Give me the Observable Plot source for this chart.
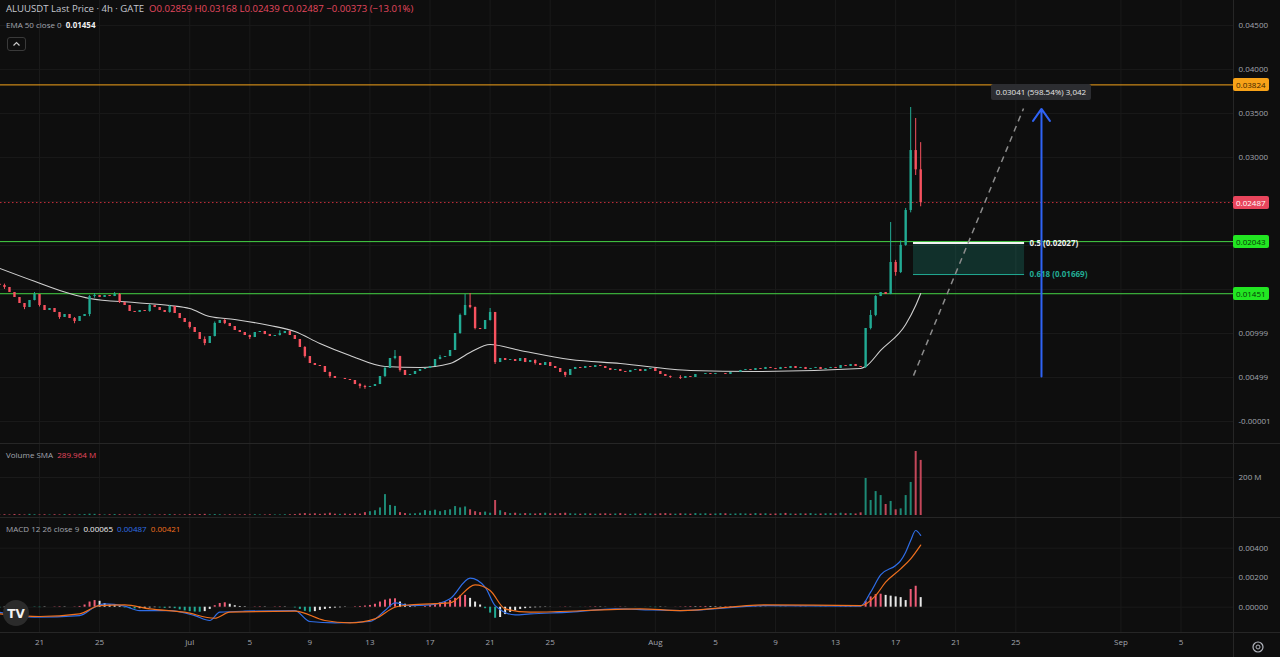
<!DOCTYPE html>
<html><head><meta charset="utf-8">
<script src="https://cdn.jsdelivr.net/npm/d3@7"></script>
<script src="https://cdn.jsdelivr.net/npm/@observablehq/plot@0.6"></script>
<style>
body{margin:0;background:#0e0e0e;overflow:hidden;}
#wrap{position:relative;width:1280px;height:657px;background:#0e0e0e;font-family:"Open Sans",sans-serif;color:#b2b5be;overflow:hidden;}
.pane{position:absolute;left:0;}
.ov{position:absolute;white-space:nowrap;}
.box{position:absolute;font-size:8px;line-height:13px;height:13px;padding:0 3px;border-radius:2px;white-space:nowrap;}
.sep{position:absolute;background:#262626;}
</style></head><body><div id="wrap"></div>
<script>
// ---------- DATA ----------
const candleStart = "2024-06-18T08:00:00Z";   // first candle open time
const candleHours = 8;
const priceUnit = 1e-5;
const firstOpen = 1560;
// closes (x 1e-5)
const closes = [
1544,1522,1465,1408,1340,1294,1374,1442,1317,1260,
1283,1238,1181,1215,1169,1135,1192,1215,1419,1431,
1408,1431,1419,1442,1351,1317,1249,1238,1260,1249,
1317,1294,1260,1238,1306,1226,1169,1124,1067,1010,
931,885,965,1113,1147,1113,1078,1033,1010,976,
953,1010,1022,987,965,976,999,1022,976,931,
840,737,658,635,624,556,510,488,488,476,
465,419,397,385,397,419,510,601,715,737,
579,522,533,567,590,601,624,703,726,737,
806,999,1204,1317,1294,1056,1044,1147,1238,669,
715,692,703,681,715,669,692,658,635,669,
624,601,556,522,590,613,601,624,613,635,
624,601,579,590,567,556,579,590,567,590,
601,567,533,510,499,499,488,510,499,533,
533,544,533,544,544,533,556,556,579,590,
579,601,590,613,601,590,613,601,624,601,
613,590,601,613,590,601,613,601,635,624,
647,624,613,1056,1204,1419,1465,1442,1806,1692,
2000,2397,3078,2859,2487];
// [candle index, high, low] (x 1e-5)
const wicks = [[1,1560,1500],[5,1340,1270],[7,1465,1370],[8,1442,1300],[12,1230,1160],[15,1180,1110],[18,1430,1190],[19,1453,1400],[23,1465,1420],[24,1453,1340],[30,1330,1240],[34,1320,1230],[38,1130,1050],[41,960,860],[43,1130,960],[45,1160,1100],[50,980,930],[56,1030,970],[61,850,720],[66,560,490],[72,430,370],[73,410,365],[77,620,500],[79,806,700],[80,740,560],[88,750,700],[92,1220,990],[93,1442,1200],[94,1453,1280],[95,1300,1040],[98,1283,1140],[99,1238,647],[107,700,640],[113,560,499],[134,515,488],[136,520,476],[173,1056,601],[174,1260,1040],[175,1430,1190],[178,2260,1440],[179,1830,1650],[180,2050,1680],[181,2420,1990],[182,3567,2370],[183,3442,2794],[184,3168,2439]];
// volume (millions)
const volumes = [
3,4,3,5,4,3,6,4,3,4, 3,4,3,5,4,3,4,5,7,6, 4,3,4,5,4,3,4,3,4,3, 4,3,3,4,5,4,3,4,5,4,
5,6,4,5,4,3,4,3,3,4, 3,4,3,3,4,3,3,4,4,5, 8,10,7,9,6,8,12,7,6,8, 6,9,7,15,20,25,40,110,53,48,
15,10,8,9,12,26,22,28,20,26, 30,47,40,45,30,20,15,18,12,79, 25,15,10,12,8,10,9,8,10,12,
9,8,10,12,9,8,7,9,8,7, 8,9,7,8,10,7,6,8,7,9, 8,7,9,10,8,7,9,8,7,10, 8,9,7,8,10,9,7,8,9,8,
7,10,8,9,7,8,9,11,8,7, 9,8,10,7,8,9,10,8,12,9, 10,8,14,
195,79,126,105,58,74,30,35,105,174,337,290];
// MACD histogram (x 1e-5)
const histogram = [
-5,-3,0,2,3,2,0,-2,-3,-2,0,2,3,2,0,2,5,
15,35,45,40,25,15,10,5,
-5,-10,-12,-10,-8,-5,-3,-5,-8,-5,
-10,-18,-25,-30,-33,-34,-30,-15,
10,25,30,20,10,5,
3,0,2,3,2,0,2,3,2,0,
-5,-15,-28,-34,-30,-22,-15,-10,-6,-4,-2,0,
3,5,8,12,20,35,48,55,57,35,20,8,2,0,
5,12,22,30,35,45,60,75,80,60,35,15,
-10,-40,-75,-70,-50,-35,-25,-15,-10,-6,-4,-3,
-2,-1,0,1,2,1,0,-1,1,2,3,2,1,0,1,2,1,0,-1,0,
-1,-2,-3,-2,-1,0,1,2,3,4,3,4,5,4,3,2,3,4,3,2,
1,2,3,2,1,0,-1,-2,-1,0,1,2,1,0,-1,-2,-1,0,1,2,3,2,1,2,
40,70,85,88,80,75,70,65,45,120,142,65];
// EMA 50 samples
const emaIdx = [0,7,14,18,27,34,38,42,47,54,59,64,70,77,84,90,94,98,104,114,124,138,151,172,173,176,181,183,184];
const emaVal = [1740,1592,1453,1397,1351,1317,1283,1192,1158,1090,1022,885,749,624,613,658,783,874,806,703,658,579,567,601,624,806,1101,1317,1454];
// MACD line samples
const macdIdx = [0,7,16,19,21,25,28,34,39,42,44,49,59,62,67,74,77,79,82,86,90,94,97,99,103,106,114,123,128,136,153,172,174,176,179,180,181,182,183,184];
const macdVal = [-34,-68,-57,0,23,7,-23,-23,-57,-90,-34,-27,-23,-97,-106,-97,-23,29,11,16,57,197,136,11,-52,-45,-34,-11,-16,-23,11,7,102,219,283,316,373,452,520,487];
// Signal line samples
const sigIdx = [0,8,16,20,25,30,37,43,46,59,65,70,75,79,82,90,95,98,101,106,128,136,153,172,175,177,180,182,184];
const sigVal = [-45,-63,-45,11,16,-11,-34,-75,-34,-27,-90,-106,-79,0,16,29,151,113,-11,-34,-11,-23,16,11,79,170,260,328,421];

const priceTicks = [0.045,0.04,0.035,0.03,0.00999,0.00499,-0.00001];
const priceGrid = [0.045,0.04,0.035,0.03,0.025,0.02,0.015,0.00999,0.00499,-0.00001];
const macdTicks = [0.004,0.002,0];
const volTicks = [200];
const dateTicks = ["2024-06-21","2024-06-25","2024-07-01","2024-07-05","2024-07-09","2024-07-13","2024-07-17","2024-07-21","2024-07-25","2024-08-01","2024-08-05","2024-08-09","2024-08-13","2024-08-17","2024-08-21","2024-08-25","2024-09-01","2024-09-05"];
const monthNames = ["Jan","Feb","Mar","Apr","May","Jun","Jul","Aug","Sep","Oct","Nov","Dec"];

const levelPrices = [0.03824, 0.02043, 0.01451];
const levelColors = ["#f5a31a", "#45d445", "#45d445"];
const levelLabelBg = ["#f7a218", "#22e622", "#22e622"];
const lastPrice = 0.02487;
const fibDates = ["2024-08-18T04:30:00Z", "2024-08-25T14:00:00Z"];
const fibPrices = [0.02027, 0.01669];
const fibLabels = ["0.5 (0.02027)", "0.618 (0.01669)"];
const trendDates = ["2024-08-18T04:30:00Z", "2024-08-25T12:20:00Z"];
const trendPrices = [0.0052, 0.03556];
const measureDate = "2024-08-26T17:00:00Z";
const measurePrices = [0.0051, 0.03551];
const measureText = "0.03041 (598.54%) 3,042";

// ---------- BUILD ----------
const t0 = new Date(candleStart).getTime();
const wickMap = new Map(wicks.map(d => [d[0], d]));
const candles = closes.map((c, i) => {
  const o = i === 0 ? firstOpen : closes[i - 1];
  const w = wickMap.get(i);
  const hi = Math.max(o, c, w ? w[1] : -1e9);
  const lo = Math.min(o, c, w ? w[2] : 1e9);
  return {t: new Date(t0 + i * candleHours * 3600e3), open: o * priceUnit, close: c * priceUnit,
          high: hi * priceUnit, low: lo * priceUnit, up: c >= o, vol: volumes[i], hist: histogram[i] * priceUnit, hprev: (i ? histogram[i-1] : 0) * priceUnit};
});
const tOf = i => new Date(t0 + i * candleHours * 3600e3);
const ema = emaIdx.map((k, j) => ({t: tOf(k), v: emaVal[j] * priceUnit}));
const macd = macdIdx.map((k, j) => ({t: tOf(k), v: macdVal[j] * priceUnit}));
const sig = sigIdx.map((k, j) => ({t: tOf(k), v: sigVal[j] * priceUnit}));
const ticksD = dateTicks.map(d => new Date(d + "T00:00:00Z"));

const UP = "#22ab94", DOWN = "#f7525f";
const GRID = "#1a1a1a";
const xDomain = [new Date("2024-06-18T09:40:00Z"), new Date("2024-09-08T11:50:00Z")];
const baseStyle = {background: "transparent", color: "#a3a6af", fontSize: "8px", fontFamily: "Open Sans"};
const fmt5 = d => d.toFixed(5);

const wrap = document.getElementById("wrap");
function addPane(svg, top) {
  const d = document.createElement("div"); d.className = "pane"; d.style.top = top + "px";
  d.appendChild(svg); wrap.appendChild(d); return d;
}

const fib = {x1: new Date(fibDates[0]), x2: new Date(fibDates[1]), y1: fibPrices[1], y2: fibPrices[0]};

const main = Plot.plot({
  width: 1280, height: 443, marginLeft: 0, marginRight: 47, marginTop: 0, marginBottom: 0,
  style: baseStyle,
  x: {type: "utc", domain: xDomain, axis: null},
  y: {domain: [-0.00251, 0.04783], axis: null},
  color: {type: "identity"},
  marks: [
    Plot.ruleY(priceGrid, {stroke: GRID}),
    Plot.ruleX(ticksD, {stroke: GRID}),
    ...levelPrices.map((p, i) => Plot.ruleY([p], {stroke: levelColors[i], strokeWidth: 1})),
    Plot.ruleY([lastPrice], {stroke: "#f23645", strokeDasharray: "1.5,2.5", strokeOpacity: 0.8}),
    Plot.rect([fib], {x1: "x1", x2: "x2", y1: "y1", y2: "y2", fill: "#22ab94", fillOpacity: 0.22}),
    Plot.ruleY([fibPrices[0]], {x1: fib.x1, x2: fib.x2, stroke: "#f2f2f2", strokeWidth: 2}),
    Plot.ruleY([fibPrices[1]], {x1: fib.x1, x2: fib.x2, stroke: "#22ab94", strokeWidth: 1}),
    Plot.text(fibPrices.map((p, i) => ({y: p, s: fibLabels[i], c: i ? "#22ab94" : "#f0f0f0"})),
      {x: fib.x2, y: "y", text: "s", fill: "c", textAnchor: "start", dx: 5, fontSize: 8, fontWeight: "bold"}),
    Plot.link([{}], {x1: new Date(trendDates[0]), y1: trendPrices[0], x2: new Date(trendDates[1]), y2: trendPrices[1],
      stroke: "#8c8c8c", strokeWidth: 1.5, strokeDasharray: "6,5"}),
    Plot.line(ema, {x: "t", y: "v", stroke: "#d0d0d0", strokeWidth: 1.1, curve: "monotone-x"}),
    Plot.ruleX(candles, {x: "t", y1: "low", y2: "high", stroke: d => d.up ? UP : DOWN, strokeWidth: 1}),
    Plot.ruleX(candles, {x: "t", y1: "open", y2: "close", stroke: d => d.up ? UP : DOWN, strokeWidth: 2.4}),
    Plot.arrow([{}], {x1: new Date(measureDate), y1: measurePrices[0], x2: new Date(measureDate), y2: measurePrices[1],
      stroke: "#2f63f5", strokeWidth: 2, headLength: 11, headAngle: 70}),
    Plot.axisY(priceTicks, {anchor: "right", tickSize: 0, tickPadding: 5, tickFormat: fmt5, fill: "#a3a6af", label: null})
  ]
});
addPane(main, 0);

const vol = Plot.plot({
  width: 1280, height: 74, marginLeft: 0, marginRight: 47, marginTop: 0, marginBottom: 0,
  style: baseStyle,
  x: {type: "utc", domain: xDomain, axis: null},
  y: {domain: [-10.5, 379], axis: null},
  color: {type: "identity"},
  marks: [
    Plot.ruleY(volTicks, {stroke: GRID}),
    Plot.ruleX(ticksD, {stroke: GRID}),
    Plot.ruleX(candles, {x: "t", y1: 0, y2: "vol", stroke: d => d.up ? "#1d8a76" : "#c4475a", strokeWidth: 2}),
    Plot.axisY(volTicks, {anchor: "right", tickSize: 0, tickPadding: 5, tickFormat: d => d + " M", fill: "#a3a6af", label: null})
  ]
});
addPane(vol, 443);

const histColor = d => d.hist >= 0 ? (d.hist >= d.hprev ? "#ef5d78" : "#e8e8e8") : (d.hist < d.hprev ? "#22ab94" : "#e8e8e8");
const mac = Plot.plot({
  width: 1280, height: 140, marginLeft: 0, marginRight: 47, marginTop: 0, marginBottom: 25,
  style: baseStyle,
  x: {type: "utc", domain: xDomain, axis: null},
  y: {domain: [-0.001715, 0.006081], axis: null},
  color: {type: "identity"},
  marks: [
    Plot.ruleY(macdTicks, {stroke: GRID}),
    Plot.ruleX(ticksD, {stroke: GRID}),
    Plot.ruleX(candles, {x: "t", y1: 0, y2: "hist", stroke: histColor, strokeWidth: 2}),
    Plot.line(macd, {x: "t", y: "v", stroke: "#2f6ee8", strokeWidth: 1.2, curve: "monotone-x"}),
    Plot.line(sig, {x: "t", y: "v", stroke: "#f0701e", strokeWidth: 1.2, curve: "monotone-x"}),
    Plot.axisY(macdTicks, {anchor: "right", tickSize: 0, tickPadding: 5, tickFormat: fmt5, fill: "#a3a6af", label: null}),
    Plot.axisX(ticksD, {anchor: "bottom", tickSize: 0, tickPadding: 7, fill: "#a3a6af", label: null,
      tickFormat: d => d.getUTCDate() === 1 ? monthNames[d.getUTCMonth()] : String(d.getUTCDate())})
  ]
});
addPane(mac, 517);

// separators
function sep(l, t, w, h) { const s = document.createElement("div"); s.className = "sep";
  Object.assign(s.style, {left: l + "px", top: t + "px", width: w + "px", height: h + "px"}); wrap.appendChild(s); }
sep(0, 443, 1280, 1); sep(0, 517, 1280, 1); sep(0, 632, 1280, 1); sep(1233, 0, 1, 657);

// overlays
function ov(html, l, t, style) { const d = document.createElement("div"); d.className = "ov";
  d.innerHTML = html; Object.assign(d.style, {left: l + "px", top: t + "px"}, style || {}); wrap.appendChild(d); return d; }

ov('<span style="color:#c5c8d0">ALUUSDT Last Price · 4h · GATE</span>&nbsp;&nbsp;<span style="color:#e5485f">O0.02859 H0.03168 L0.02439 C0.02487 −0.00373 (−13.01%)</span>', 6, 2, {fontSize: "9.6px"});
ov('<span style="color:#a3a6af">EMA 50 close 0</span>&nbsp;&nbsp;<span style="color:#f0f0f0;font-weight:bold">0.01454</span>', 6, 19, {fontSize: "8px"});
ov('<svg width="19" height="14"><rect x="0.5" y="0.5" width="18" height="13" rx="2.5" fill="#0e0e0e" stroke="#3a3a3a"/><path d="M6.5 8.5 L9.5 5.5 L12.5 8.5" fill="none" stroke="#c8c8c8" stroke-width="1.2"/></svg>', 7, 34);
ov('<span style="color:#a3a6af">Volume SMA</span>&nbsp;&nbsp;<span style="color:#e5485f">289.964 M</span>', 6, 449, {fontSize: "8px"});
ov('<span style="color:#a3a6af">MACD 12 26 close 9</span>&nbsp;&nbsp;<span style="color:#f0f0f0">0.00065</span>&nbsp;&nbsp;<span style="color:#2f6ee8">0.00487</span>&nbsp;&nbsp;<span style="color:#f0701e">0.00421</span>', 6, 523, {fontSize: "8px"});
ov('<svg width="30" height="30"><circle cx="15" cy="15" r="13" fill="#2b2b2b"/><text x="15" y="19.5" text-anchor="middle" font-family="DejaVu Sans" font-weight="bold" font-size="12" fill="#f2f2f2">TV</text></svg>', 1, 598);
ov('<svg width="14" height="14"><circle cx="7" cy="7" r="5" fill="none" stroke="#b2b5be" stroke-width="1.2"/><circle cx="7" cy="7" r="2" fill="none" stroke="#b2b5be" stroke-width="1"/></svg>', 1251, 637);

// price labels on right axis via the y scale
const ys = main.scale("y"), xs = main.scale("x");
function priceBox(v, bg, fg) {
  const b = document.createElement("div"); b.className = "box"; b.textContent = v.toFixed(5);
  Object.assign(b.style, {left: "1233px", top: (ys.apply(v) - 6.5) + "px", background: bg, color: fg});
  wrap.appendChild(b);
}
priceBox(levelPrices[0], levelLabelBg[0], "#3a2500");
priceBox(lastPrice, "#e8455c", "#ffffff");
priceBox(levelPrices[1], levelLabelBg[1], "#063806");
priceBox(levelPrices[2], levelLabelBg[2], "#063806");

// measure label
const mb = document.createElement("div"); mb.className = "box"; mb.textContent = measureText;
Object.assign(mb.style, {background: "#2c2d31", color: "#e6e6e6", height: "16px", lineHeight: "16px", padding: "0 5px"});
wrap.appendChild(mb);
const mw = mb.getBoundingClientRect().width;
mb.style.left = (xs.apply(new Date(measureDate)) - mw / 2) + "px";
mb.style.top = (ys.apply(measurePrices[1]) - 24) + "px";
</script></body></html>
